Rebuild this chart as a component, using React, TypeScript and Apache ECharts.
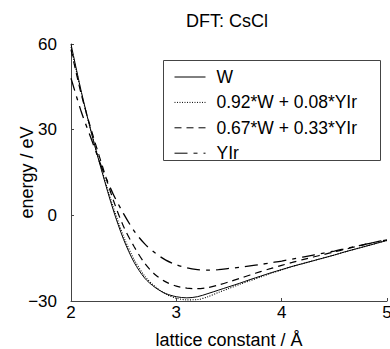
import React, { useEffect, useRef } from "react";
import * as echarts from "echarts";

const latticeX = [2.0, 2.1, 2.2, 2.3, 2.4, 2.5, 2.6, 2.7, 2.8, 2.9, 3.0, 3.1, 3.2, 3.3, 3.4, 3.5, 3.6, 3.7, 3.8, 3.9, 4.0, 4.1, 4.2, 4.3, 4.4, 4.5, 4.6, 4.7, 4.8, 4.9, 5.0];

const energyW = [60, 43, 28, 14.5, 2, -8.5, -16.5, -22, -25.3, -27.4, -28.5, -28.9, -28.5, -27.4, -26.2, -25.0, -23.8, -22.5, -21.3, -20.1, -19.0, -17.9, -16.9, -15.9, -14.9, -13.9, -12.8, -11.8, -10.8, -9.8, -8.8];
const energy092 = [59, 42.5, 28, 15, 3, -7.5, -15.5, -21.3, -25, -27.6, -29, -29.6, -29.5, -28.5, -27.0, -25.6, -24.2, -22.9, -21.6, -20.3, -19.1, -17.9, -16.9, -15.9, -14.9, -13.9, -12.8, -11.8, -10.8, -9.8, -8.8];
const energy067 = [58, 42, 29, 17, 5.5, -4, -11, -16.8, -20.8, -23.3, -24.8, -25.5, -25.7, -25.3, -24.4, -23.3, -22.1, -20.9, -19.7, -18.6, -17.5, -16.5, -15.5, -14.6, -13.7, -12.8, -11.9, -11.0, -10.1, -9.3, -8.6];
const energyYIr = [48, 36, 26, 16, 7.5, 0.5, -5.5, -10, -13.2, -15.7, -17.3, -18.4, -19.0, -19.2, -19.0, -18.6, -18.2, -17.7, -17.2, -16.6, -16.0, -15.3, -14.6, -13.9, -13.2, -12.5, -11.7, -10.9, -10.1, -9.3, -8.5];

const seriesNames = ["W", "0.92*W + 0.08*YIr", "0.67*W + 0.33*YIr", "YIr"];
const xTicks = [2, 3, 4, 5];
const yTicks = [-30, 0, 30, 60];

const FONT = "Liberation Sans, Arial, sans-serif";

export default function App() {
  const ref = useRef<HTMLDivElement>(null);
  useEffect(() => {
    if (!ref.current) return;
    const chart = echarts.init(ref.current, undefined, { renderer: "svg" });
    const pair = (ys: number[]) => latticeX.map((x, i) => [x, ys[i]]);
    const dashTypes: any[] = ["solid", [1, 1.5], [7, 5], [13, 6, 4, 6]];
    const widths = [1, 1.1, 1.2, 1.3];
    const datas = [energyW, energy092, energy067, energyYIr];
    chart.setOption({
      animation: false,
      grid: { left: 71, right: 3, top: 44, bottom: 48, containLabel: false, outerBoundsMode: "none" },
      xAxis: {
        type: "value",
        min: xTicks[0],
        max: xTicks[xTicks.length - 1],
        interval: 1,
        name: "lattice constant / Å",
        nameLocation: "middle",
        nameGap: 30,
        nameMoveOverlap: false,
        nameTextStyle: { fontFamily: FONT, fontSize: 18, color: "#000" },
        axisLine: { onZero: false, lineStyle: { color: "#444", width: 1 } },
        axisTick: { inside: true, length: 3, lineStyle: { color: "#444" } },
        axisLabel: { fontFamily: FONT, fontSize: 17, color: "#000", margin: 3 },
        splitLine: { show: false },
      },
      yAxis: {
        type: "value",
        min: yTicks[0],
        max: yTicks[yTicks.length - 1],
        interval: 30,
        name: "energy / eV",
        nameLocation: "middle",
        nameGap: 35,
        nameRotate: 90,
        nameMoveOverlap: false,
        nameTextStyle: { fontFamily: FONT, fontSize: 18, color: "#000" },
        axisLine: { show: true, onZero: false, lineStyle: { color: "#444", width: 1 } },
        axisTick: { show: true, inside: true, length: 3, lineStyle: { color: "#444" } },
        axisLabel: {
          fontFamily: FONT,
          fontSize: 17,
          color: "#000",
          margin: 14,
          formatter: (v: number) => String(v).replace("-", "\u2212"),
        },
        splitLine: { show: false },
      },
      legend: {
        orient: "vertical",
        left: 174,
        top: 68,
        itemWidth: 31,
        itemHeight: 14,
        itemGap: 7.4,
        padding: 0,
        data: seriesNames,
        itemStyle: { opacity: 0 },
        lineStyle: { width: 1 },
        textStyle: { fontFamily: FONT, fontSize: 17.5, lineHeight: 14, color: "#000", padding: [0, 0, 0, 6] },
      },
      graphic: [
        {
          type: "rect",
          shape: { x: 163.5, y: 60.5, width: 217, height: 100 },
          style: { fill: "none", stroke: "#444", lineWidth: 1 },
          z: 10,
        },
        {
          type: "text",
          x: 227,
          y: 21,
          style: {
            text: "DFT: CsCl",
            fontFamily: FONT,
            fontSize: 18,
            fill: "#000",
            textAlign: "center",
            textVerticalAlign: "middle",
          },
        },
      ],
      series: seriesNames.map((name, i) => ({
        name,
        type: "line",
        data: pair(datas[i]),
        smooth: 0.3,
        symbol: "none",
        showSymbol: false,
        lineStyle: { color: "#000", width: widths[i], type: dashTypes[i] },
        itemStyle: { color: "#000" },
        z: 5 - i,
      })),
    });
    return () => chart.dispose();
  }, []);
  return (
    <div
      ref={ref}
      style={{ position: "absolute", left: 0, top: 0, width: 390, height: 349, background: "#fff" }}
    />
  );
}
